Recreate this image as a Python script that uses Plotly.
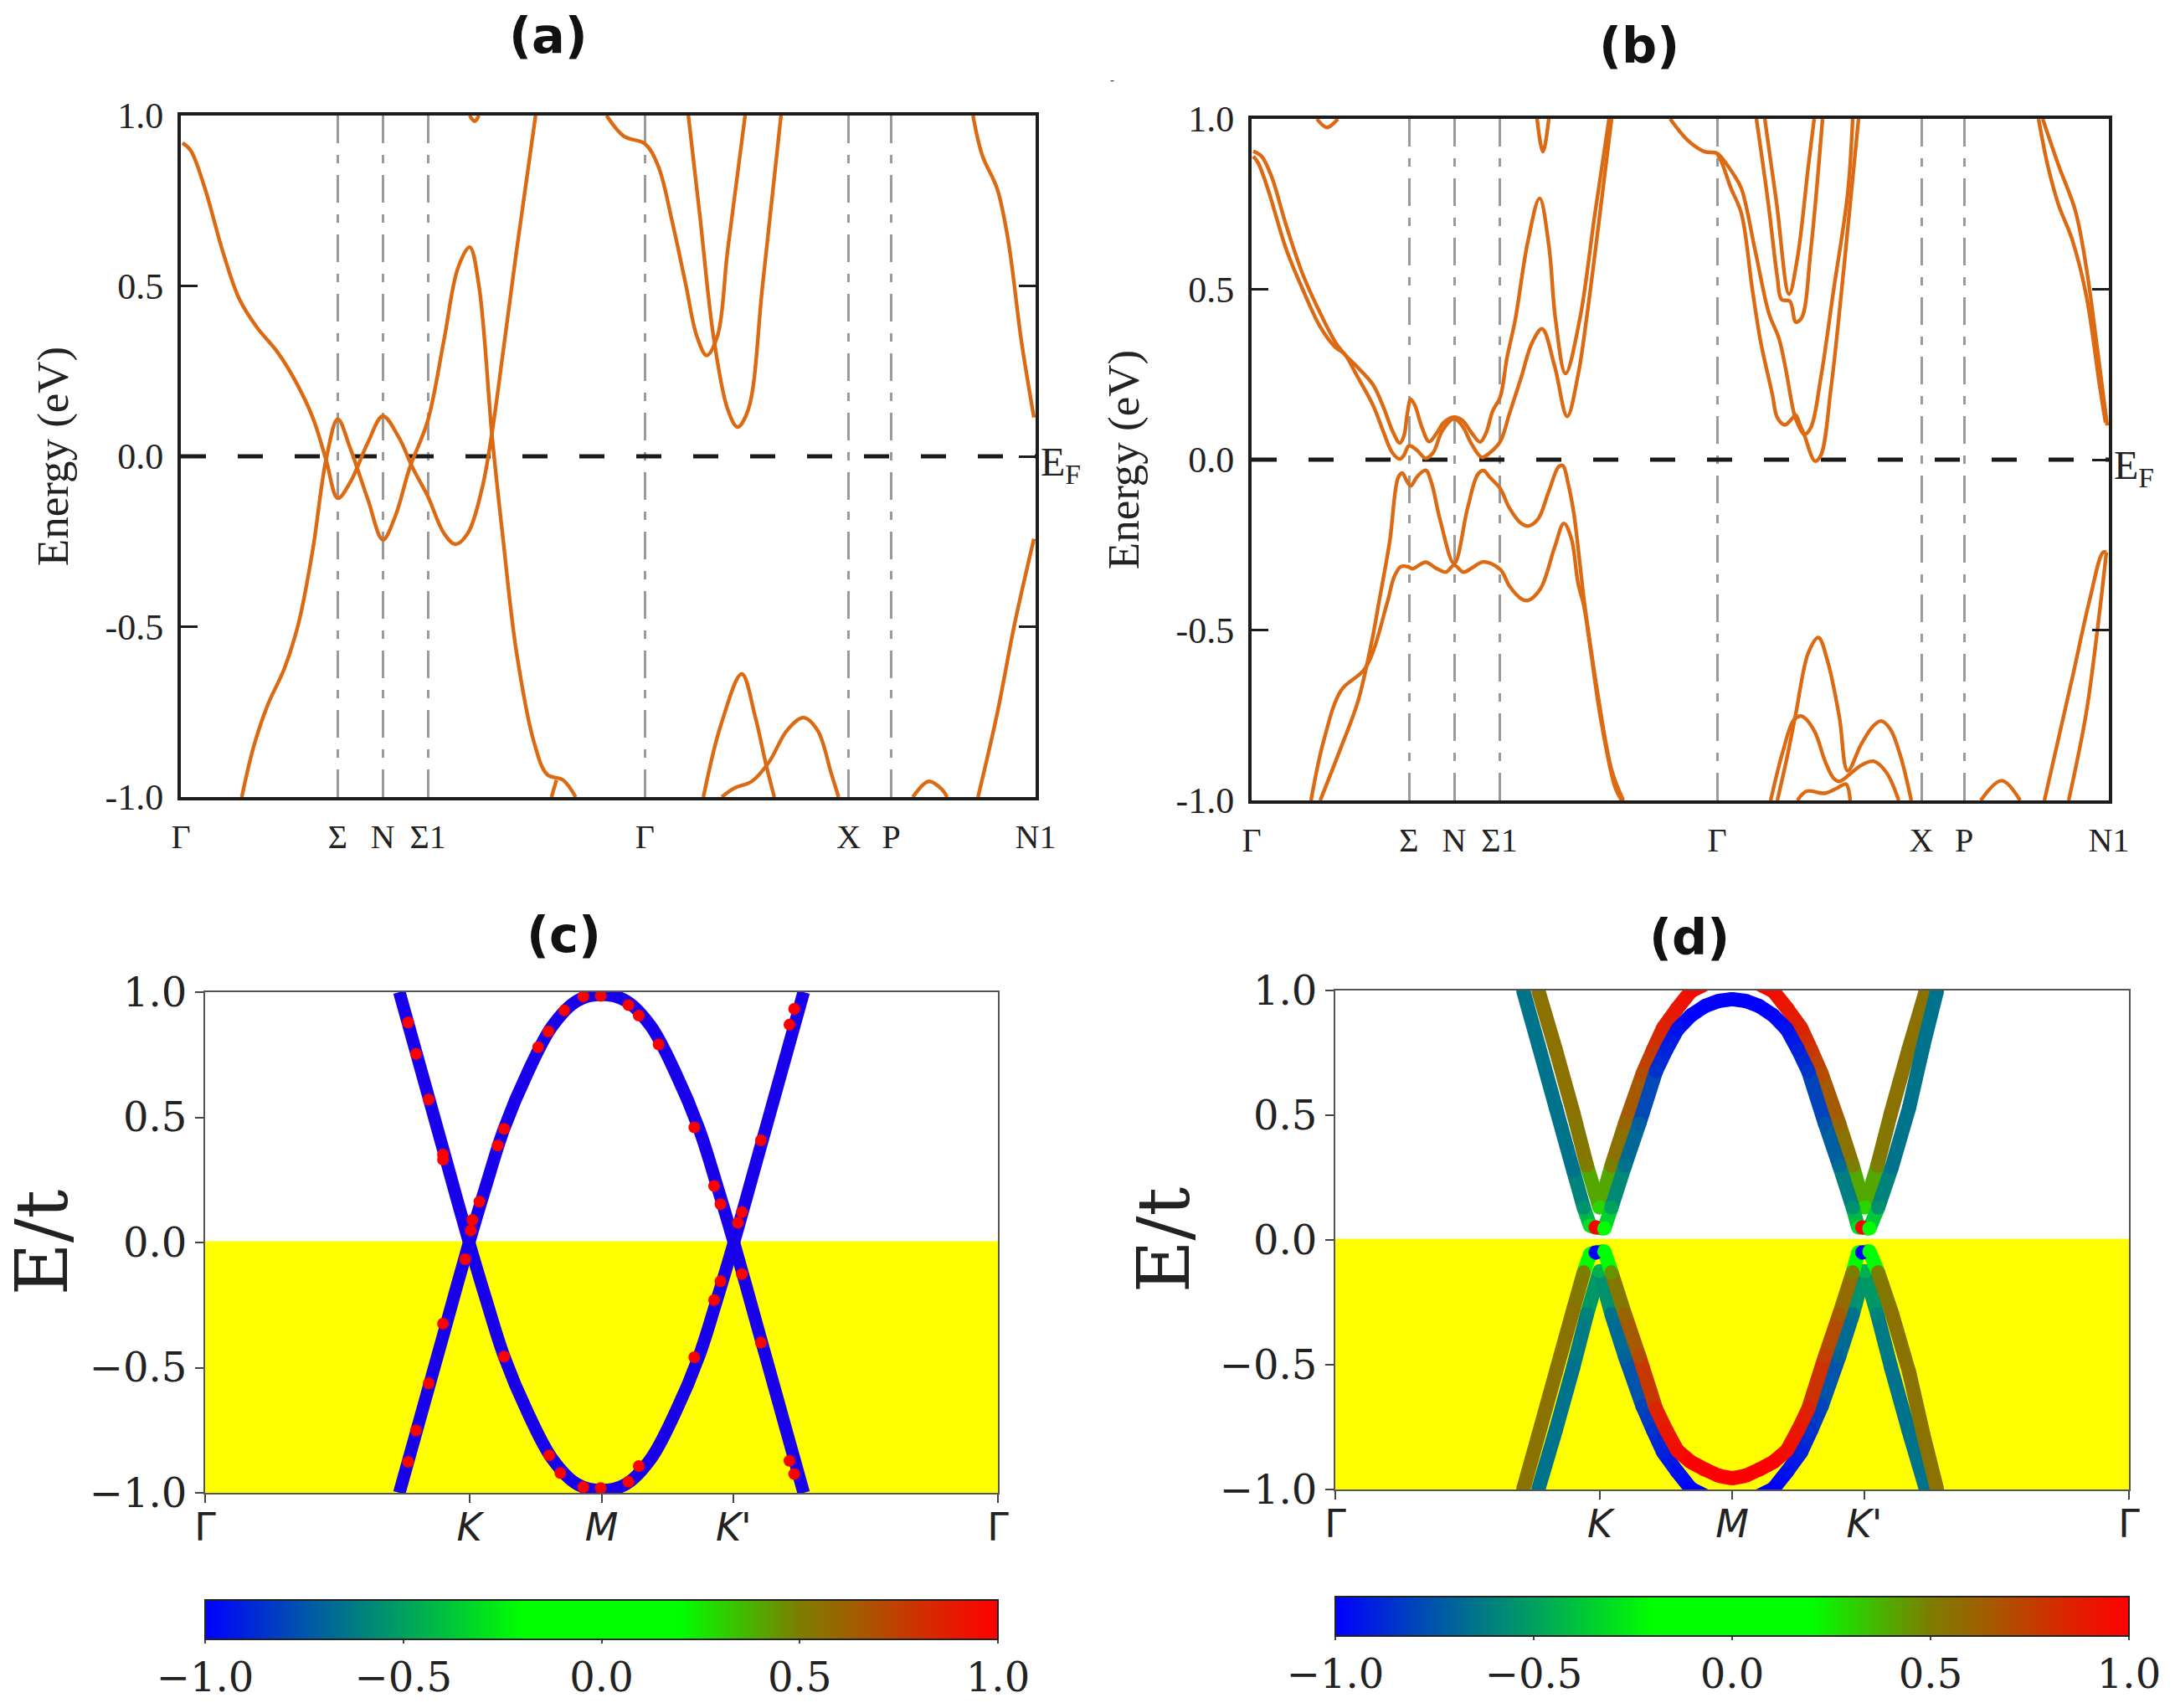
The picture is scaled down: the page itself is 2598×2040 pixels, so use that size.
import plotly.graph_objects as go
from plotly.colors import sample_colorscale

W, H = 2598, 2040
ORANGE = "#DC6A12"

# ---------- panel (a) bands: k along path, E in eV
path_labels = ["Γ", "Σ", "N", "Σ1", "Γ", "X", "P", "N1"]
path_ticks = [0, 188, 242, 296, 556, 800, 851, 1024]
energy_ticks = [-1.0, -0.5, 0.0, 0.5, 1.0]
energy_labels = ["-1.0", "-0.5", "0.0", "0.5", "1.0"]

a1_k = [2,12,29,50,70,91,116,137,158,174,188,203,224,242,261,278,296,315,329,344,361,373,386,402,425]
a1_E = [.92,.897,.785,.603,.462,.379,.305,.222,.114,-.01,-.123,-.076,.04,.118,.056,-.035,-.118,-.225,-.258,-.225,-.093,.073,.305,.60,1.0]
a2_k = [73,87,104,124,141,158,174,188,203,224,242,257,274,296,315,332,346,357,373,386,402,423,439,458,473]
a2_E = [-1,-.854,-.73,-.623,-.49,-.275,-.01,.109,.023,-.126,-.245,-.175,-.035,.106,.338,.553,.614,.503,.056,-.242,-.573,-.838,-.934,-.95,-1]
a3_k = [444,450]
a3_E = [-1,-.95]
a4_k = [346,352,357]
a4_E = [1,.983,1]
a5_k = [510,531,556,572,589,605,618,630,643,655,676]
a5_E = [1,.939,.917,.851,.685,.503,.354,.296,.354,.603,1]
a6_k = [608,622,638,655,667,680,697,719]
a6_E = [1,.702,.354,.139,.086,.139,.503,1]
a7_k = [626,647,672,688,701,711]
a7_E = [-1,-.788,-.639,-.763,-.904,-1]
a8_k = [648,663,684,705,726,746,763,779,788]
a8_E = [-1,-.974,-.954,-.896,-.805,-.767,-.805,-.929,-1]
a9_k = [877,896,912,918]
a9_E = [-1,-.954,-.978,-1]
a10_k = [949,960,978,991,1007,1022]
a10_E = [1,.884,.785,.636,.338,.114]
a11_k = [955,978,999,1022]
a11_E = [-1,-.755,-.49,-.242]

# ---------- panel (b) bands
b1_k = [2,12,24,41,61,82,100,111,125,145,158,168,177,182,186,190,195,203,212,220,230,242,252,263,273,280,288,297,305,315,330,344,355,363,375,392,410,427]
b1_E = [.905,.89,.83,.69,.545,.43,.345,.31,.275,.22,.151,.086,.049,.07,.135,.177,.16,.098,.053,.074,.11,.125,.115,.078,.052,.078,.143,.184,.298,.412,.64,.767,.63,.412,.253,.412,.72,1]
b2_k = [2,8,20,41,61,82,100,111,125,145,158,168,177,182,188,197,208,217,228,242,252,263,275,285,297,308,322,335,347,362,377,390,400,415,430]
b2_E = [.89,.87,.79,.62,.50,.39,.33,.31,.25,.16,.078,.021,.002,.013,.041,.029,.004,.021,.086,.12,.098,.045,.007,.021,.053,.135,.241,.343,.384,.274,.127,.249,.412,.70,1]
b3_k = [82,107,127,144,152,165,175,180,185,190,198,208,215,225,242,258,270,277,285,297,308,322,330,342,355,367,372,378,385,391,397,405,413,430,444]
b3_E = [-1,-.843,-.71,-.528,-.42,-.24,-.053,-.039,-.061,-.077,-.049,-.031,-.069,-.175,-.305,-.142,-.044,-.032,-.053,-.085,-.142,-.187,-.195,-.175,-.093,-.02,-.018,-.069,-.159,-.28,-.41,-.55,-.68,-.91,-1]
b4_k = [71,86,107,136,162,170,178,187,192,208,220,232,242,253,263,277,297,308,322,330,345,362,373,382,390,397,405,417,434,442]
b4_E = [-1,-.826,-.677,-.611,-.42,-.346,-.314,-.314,-.32,-.301,-.318,-.33,-.31,-.33,-.318,-.30,-.322,-.371,-.408,-.413,-.379,-.257,-.187,-.232,-.363,-.43,-.56,-.76,-.96,-1]
b5_k = [78,90,103]
b5_E = [1,.975,1]
b6_k = [341,348,355]
b6_E = [1,.904,1]
b7_k = [500,521,541,556,565,575,585,602,618,630,638,648,653,660,668,680,695,712,718]
b7_E = [1,.937,.904,.899,.875,.84,.796,.608,.429,.355,.266,.135,.102,.074,.094,.241,.494,.78,1]
b8_k = [556,562,572,585,598,608,622,628,637,645,650,655,660,673,680,692,708,725]
b8_E = [.899,.87,.80,.723,.502,.347,.192,.123,.102,.119,.131,.102,.074,-.004,.013,.208,.575,1]
b9_k = [603,617,628,633,643,650,657,668,682]
b9_E = [1,.755,.535,.47,.465,.404,.416,.616,1]
b10_k = [613,627,642,652,665,672]
b10_E = [1,.755,.486,.592,.861,1]
b11_k = [628,640,650,665,677,688,702,712,728,742,752,763,775,788]
b11_E = [-1,-.869,-.746,-.567,-.522,-.591,-.754,-.913,-.836,-.783,-.767,-.791,-.869,-1]
b12_k = [620,635,648,657,672,685,695,702,715,728,743,758,773]
b12_E = [-1,-.853,-.763,-.753,-.795,-.885,-.934,-.944,-.922,-.897,-.885,-.917,-1]
b13_k = [652,663,685,700,710,715]
b13_E = [-1,-.973,-.979,-.963,-.952,-1]
b14_k = [871,896,918]
b14_E = [-1,-.942,-1]
b15_k = [940,951,964,980,997,1013,1020]
b15_E = [1,.863,.747,.647,.482,.217,.109]
b16_k = [945,964,984,997,1009,1022]
b16_E = [1,.863,.73,.565,.349,.10]
b17_k = [947,980,1001,1017,1021]
b17_E = [-1,-.644,-.412,-.272,-.272]
b18_k = [976,997,1013,1021]
b18_E = [-1,-.743,-.445,-.272]

# ---------- panel (c)
hex_labels = ["Γ", "<i>K</i>", "<i>M</i>", "<i>K'</i>", "Γ"]
hex_ticks = [0, 1/3, 0.5, 2/3, 1]
c_k = [.245,.267,.285,.302,.333,.355,.377,.407,.438,.469,.5,.531,.562,.593,.623,.645,.667,.698,.715,.733,.755]
c_E_dip = [1,.75,.545,.352,0,-.234,-.454,-.68,-.865,-.965,-.99,-.965,-.865,-.68,-.454,-.234,0,.352,.545,.75,1]
c_E_dome = [-1,-.75,-.545,-.352,0,.234,.454,.68,.865,.965,.99,.965,.865,.68,.454,.234,0,-.352,-.545,-.75,-1]
c_red_k = [.256,.266,.282,.300,.300,.337,.335,.346,.369,.377,.420,.433,.453,.477,.499,.534,.547,.572,.617,.642,.650,.672,.677,.701,.737,.743,
           .256,.266,.282,.300,.328,.377,.434,.448,.477,.499,.534,.547,.617,.642,.650,.677,.701,.737,.743]
c_red_E = [.879,.753,.571,.351,.331,.090,.048,.163,.387,.454,.780,.843,.927,.983,.985,.948,.906,.791,.460,.226,.153,.079,.121,.408,.870,.933,
           -.876,-.751,-.563,-.324,-.067,-.456,-.85,-.921,-.977,-.981,-.956,-.893,-.458,-.230,-.155,-.126,-.400,-.872,-.925]
c_red_spin = [1.0] * len(c_red_k)

# ---------- panel (d)
d_in_k = [.237,.256,.278,.30,.313,.321,.328,.339,.348,.365,.383,.404,.417,.431,.448,.466,.483,.5,.517,.534,.552,.569,.583,.596,.617,.635,.652,.659,.664,.673,.684,.701,.723,.741,.758]
d_up_in_E = [.997,.781,.529,.277,.13,.057,.05,.046,.13,.298,.466,.676,.762,.844,.90,.938,.958,.965,.958,.938,.90,.844,.762,.676,.466,.298,.13,.05,.05,.046,.13,.29,.53,.78,.997]
d_up_in_s = [-.65,-.65,-.65,-.65,-.55,-.3,1,-.2,-.5,-.65,-.72,-.85,-.9,-.95,-1,-1,-1,-1,-1,-1,-1,-.95,-.9,-.85,-.75,-.68,-.55,-.3,1,-.2,-.55,-.65,-.65,-.65,-.65]
d_lo_in_E = [-.997,-.781,-.529,-.277,-.13,-.057,-.05,-.046,-.13,-.298,-.466,-.676,-.762,-.844,-.89,-.92,-.945,-.955,-.945,-.92,-.89,-.844,-.762,-.676,-.466,-.298,-.13,-.05,-.05,-.046,-.13,-.29,-.53,-.78,-.997]
d_lo_in_s = [.55,.55,.55,.55,.5,-.2,-1,-.15,.45,.6,.7,.85,.9,.95,1,1,1,1,1,1,1,.95,.9,.85,.75,.65,.5,-.2,-1,-.15,.5,.55,.55,.55,.55]
d_out_k = [.256,.278,.30,.317,.333,.348,.365,.387,.40,.413,.43,.448,.475,.5,.525,.552,.57,.587,.60,.613,.635,.652,.667,.683,.70,.722,.744]
d_up_out_E = [.997,.76,.508,.298,.13,.298,.466,.665,.76,.85,.925,.997,1.04,1.06,1.04,.997,.925,.85,.76,.665,.466,.298,.13,.298,.508,.76,.997]
d_up_out_s = [.55,.55,.55,.5,.3,.5,.6,.7,.78,.85,.9,.95,1,1,1,.95,.9,.85,.78,.7,.6,.5,.3,.5,.55,.55,.55]
d_lo_out_E = [-.997,-.76,-.508,-.298,-.125,-.298,-.466,-.665,-.76,-.85,-.925,-.997,-1.04,-1.06,-1.04,-.997,-.925,-.85,-.76,-.665,-.466,-.298,-.125,-.298,-.508,-.76,-.997]
d_lo_out_s = [-.65,-.65,-.65,-.6,-.45,-.65,-.7,-.8,-.85,-.9,-.95,-1,-1,-1,-1,-1,-.95,-.9,-.85,-.8,-.7,-.65,-.45,-.6,-.65,-.65,-.65]

spin_ticks = [-1.0, -0.5, 0.0, 0.5, 1.0]
spin_scale = [[0, "rgb(0,0,255)"], [.125, "rgb(0,85,170)"], [.25, "rgb(0,160,95)"], [.4, "rgb(0,255,0)"],
              [.6, "rgb(0,255,0)"], [.75, "rgb(125,125,0)"], [.825, "rgb(165,90,0)"], [.925, "rgb(220,35,0)"], [1, "rgb(255,0,0)"]]

fig = go.Figure()


def band(k, E, ax):
    fig.add_trace(go.Scatter(x=k, y=E, mode="lines", xaxis=f"x{ax}", yaxis=f"y{ax}", showlegend=False,
                             line=dict(color=ORANGE, width=4.4, shape="spline", smoothing=1.0)))


# Fermi level dashes, under the bands
for ax in ("", "2"):
    fig.add_trace(go.Scatter(x=[path_ticks[0], path_ticks[-1]], y=[0, 0], mode="lines", xaxis=f"x{ax}", yaxis=f"y{ax}",
                             showlegend=False, line=dict(color="#1a1a1a", width=5, dash="30px,38px")))

for k, E in [(a1_k, a1_E), (a2_k, a2_E), (a3_k, a3_E), (a4_k, a4_E), (a5_k, a5_E), (a6_k, a6_E),
             (a7_k, a7_E), (a8_k, a8_E), (a9_k, a9_E), (a10_k, a10_E), (a11_k, a11_E)]:
    band(k, E, "")
for k, E in [(b1_k, b1_E), (b2_k, b2_E), (b3_k, b3_E), (b4_k, b4_E), (b5_k, b5_E), (b6_k, b6_E), (b7_k, b7_E),
             (b8_k, b8_E), (b9_k, b9_E), (b10_k, b10_E), (b11_k, b11_E), (b12_k, b12_E), (b13_k, b13_E),
             (b14_k, b14_E), (b15_k, b15_E), (b16_k, b16_E), (b17_k, b17_E), (b18_k, b18_E)]:
    band(k, E, "2")

# panel (c)
for E in (c_E_dip, c_E_dome):
    fig.add_trace(go.Scatter(x=c_k, y=E, mode="lines", xaxis="x3", yaxis="y3", showlegend=False,
                             line=dict(color="rgb(25,0,235)", width=15, shape="spline", smoothing=1.0)))
fig.add_trace(go.Scatter(x=c_red_k, y=c_red_E, mode="markers", xaxis="x3", yaxis="y3", showlegend=False,
                         marker=dict(color=c_red_spin, coloraxis="coloraxis", size=14)))


# panel (d): colour follows the spin value along each band
def spin_band(k, E, s):
    for i in range(len(k) - 1):
        v = (s[i] + s[i + 1]) / 2
        col = sample_colorscale(spin_scale, [(v + 1) / 2])[0]
        fig.add_trace(go.Scatter(x=k[i:i + 2], y=E[i:i + 2], mode="lines", xaxis="x4", yaxis="y4", showlegend=False,
                                 line=dict(color=col, width=17), hoverinfo="skip"))
    fig.add_trace(go.Scatter(x=k, y=E, mode="markers", xaxis="x4", yaxis="y4", showlegend=False,
                             marker=dict(color=s, coloraxis="coloraxis2", size=17)))


spin_band(d_out_k, d_up_out_E, d_up_out_s)
spin_band(d_in_k, d_up_in_E, d_up_in_s)
spin_band(d_out_k, d_lo_out_E, d_lo_out_s)
spin_band(d_in_k, d_lo_in_E, d_lo_in_s)


def dom_x(a, b):
    return [a / W, b / W]


def dom_y(top, bottom):
    return [1 - bottom / H, 1 - top / H]


def path_x(domain, anchor):
    return dict(domain=domain, anchor=anchor, range=[0, 1024], tickmode="array", tickvals=path_ticks, ticktext=path_labels,
                ticks="", showgrid=True, gridcolor="#9a9a9a", gridwidth=3, griddash="33px,14px,10px,14px", zeroline=False,
                showline=True, mirror=True, linecolor="#1c1c1c", linewidth=4, ticklabelstandoff=9,
                tickfont=dict(family="Liberation Serif", size=40, color="#222"), tickangle=0)


def path_y(domain, anchor):
    return dict(domain=domain, anchor=anchor, range=[-1, 1], tickmode="array", tickvals=energy_ticks, ticktext=energy_labels,
                ticks="inside", ticklen=20, tickwidth=3, tickcolor="#1c1c1c", showgrid=False, zeroline=False,
                showline=True, mirror="ticks", linecolor="#1c1c1c", linewidth=4, ticklabelstandoff=8,
                tickfont=dict(family="Liberation Serif", size=44, color="#222"),
                title=dict(text="Energy (eV)", standoff=28, font=dict(family="Liberation Serif", size=53, color="#222")))


def hex_x(domain, anchor):
    return dict(domain=domain, anchor=anchor, range=[0, 1], tickmode="array", tickvals=hex_ticks, ticktext=hex_labels,
                ticks="outside", ticklen=10, tickwidth=2, tickcolor="#444", showgrid=False, zeroline=False,
                showline=True, mirror=True, linecolor="#555", linewidth=2, tickangle=0, ticklabelstandoff=-10,
                tickfont=dict(family="DejaVu Sans", size=46, color="#222"))


def hex_y(domain, anchor, standoff):
    return dict(domain=domain, anchor=anchor, range=[-1, 1], tickmode="array", tickvals=spin_ticks, tickformat=".1f",
                ticks="outside", ticklen=10, tickwidth=2, tickcolor="#444", showgrid=False, zeroline=False,
                showline=True, mirror=True, linecolor="#555", linewidth=2,
                tickfont=dict(family="DejaVu Serif", size=48, color="#222"),
                title=dict(text="E/t", standoff=standoff, font=dict(family="DejaVu Serif", size=86, color="#222")))


def spin_bar(left, right, top):
    return dict(cmin=-1, cmax=1, colorscale=spin_scale,
                colorbar=dict(orientation="h", x=(left + right) / 2 / W, xanchor="center", y=1 - top / H, yanchor="top",
                              len=(right - left) / W, lenmode="fraction", thickness=47, thicknessmode="pixels",
                              xpad=0, ypad=0, outlinecolor="#222", outlinewidth=2, tickmode="array", tickvals=spin_ticks,
                              tickformat=".1f", ticks="outside", ticklen=4, tickwidth=2, tickcolor="#444",
                              tickfont=dict(family="DejaVu Serif", size=48, color="#222")))


def title(text, x, y):
    return dict(text=text, x=x / W, y=1 - y / H, xref="paper", yref="paper", xanchor="center", yanchor="middle",
                showarrow=False, font=dict(family="DejaVu Sans", size=59, color="#111", weight="bold"))


def fermi(ax):
    return dict(text="E<sub>F</sub>", x=1024, y=0, xref=f"x{ax}", yref=f"y{ax}", xanchor="left", yanchor="middle", xshift=4,
                yshift=-10, showarrow=False, font=dict(family="Liberation Serif", size=48, color="#222"))


def occupied(ax):
    return dict(type="rect", xref=f"x{ax}", yref=f"y{ax}", x0=0, x1=1, y0=-1, y1=0.005, fillcolor="#ffff00",
                line=dict(width=0), layer="below")


fig.update_layout(
    width=W, height=H, margin=dict(l=0, r=0, t=0, b=0, autoexpand=False), paper_bgcolor="white", plot_bgcolor="white", showlegend=False,
    xaxis=path_x(dom_x(216, 1237), "y"), yaxis=path_y(dom_y(138, 952), "x"),
    xaxis2=path_x(dom_x(1495, 2519), "y2"), yaxis2=path_y(dom_y(142, 956), "x2"),
    xaxis3=hex_x(dom_x(245, 1192), "y3"), yaxis3=hex_y(dom_y(1185, 1783), "x3", 16),
    xaxis4=hex_x(dom_x(1595, 2543), "y4"), yaxis4=hex_y(dom_y(1183, 1779), "x4", 8),
    coloraxis=spin_bar(245, 1192, 1911), coloraxis2=spin_bar(1595, 2543, 1907),
    shapes=[occupied("3"), occupied("4")],
    annotations=[title("(a)", 655, 42), title("(b)", 1958, 54), title("(c)", 673, 1116), title("(d)", 2018, 1119),
                 fermi(""), fermi("2"),
                 dict(text="-", x=1329 / W, y=1 - 86 / H, xref="paper", yref="paper", showarrow=False,
                      font=dict(family="DejaVu Sans", size=14, color="#333"))],
)

fig.write_html("out.html", config={"displayModeBar": False},
               post_script="document.body.style.margin='0';document.documentElement.style.overflow='hidden';")
